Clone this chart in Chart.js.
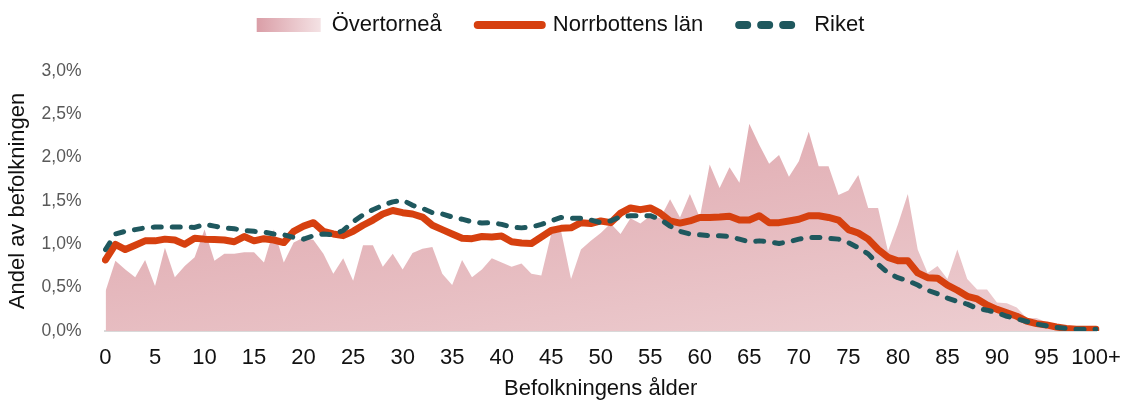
<!DOCTYPE html>
<html lang="sv">
<head>
<meta charset="utf-8">
<title>Befolkning efter ålder</title>
<script src="https://cdn.jsdelivr.net/npm/chart.js"></script>
<style>
    html, body { margin: 0; padding: 0; background: #fff; }
    #wrap { width: 1121px; height: 400px; }
</style>
</head>
<body>
<div id="wrap"><canvas id="ageChart" width="1121" height="400"></canvas></div>
<script>
// Åldrar 0-99 samt 100+
const ages = Array.from({ length: 100 }, (_, i) => String(i)).concat(['100+']);

// Andel av befolkningen (%) per ålder
const overtornea = [
    0.46, 0.81, 0.71, 0.62, 0.82, 0.52, 0.96, 0.62, 0.75, 0.85,
    1.17, 0.81, 0.89, 0.89, 0.91, 0.91, 0.79, 1.17, 0.79, 1.02,
    1.08, 1.05, 0.89, 0.66, 0.84, 0.58, 0.99, 0.99, 0.74, 0.89,
    0.71, 0.90, 0.95, 0.97, 0.66, 0.53, 0.82, 0.62, 0.71, 0.84,
    0.79, 0.74, 0.78, 0.66, 0.64, 1.12, 1.15, 0.60, 0.94, 1.04,
    1.13, 1.24, 1.12, 1.30, 1.24, 1.33, 1.30, 1.52, 1.31, 1.58,
    1.31, 1.92, 1.65, 1.89, 1.71, 2.39, 2.15, 1.93, 2.03, 1.78,
    1.96, 2.30, 1.90, 1.90, 1.57, 1.62, 1.80, 1.42, 1.42, 0.92,
    1.23, 1.58, 0.94, 0.67, 0.75, 0.60, 0.94, 0.60, 0.48, 0.48,
    0.33, 0.32, 0.27, 0.15, 0.15, 0.10, 0.07, 0.05, 0.03, 0.02,
    0.02
];

const norrbotten = [
    0.82, 1.00, 0.94, 0.99, 1.04, 1.04, 1.06, 1.05, 1.00, 1.07,
    1.06, 1.055, 1.05, 1.03, 1.09, 1.04, 1.065, 1.05, 1.02, 1.15,
    1.21, 1.25, 1.15, 1.12, 1.10, 1.15, 1.22, 1.28, 1.35, 1.39,
    1.365, 1.35, 1.315, 1.22, 1.17, 1.12, 1.07, 1.065, 1.09, 1.085,
    1.095, 1.03, 1.015, 1.01, 1.085, 1.16, 1.185, 1.19, 1.25, 1.24,
    1.27, 1.25, 1.36, 1.42, 1.40, 1.42, 1.36, 1.27, 1.245, 1.27,
    1.31, 1.31, 1.315, 1.325, 1.28, 1.28, 1.33, 1.25, 1.25, 1.27,
    1.29, 1.33, 1.33, 1.31, 1.28, 1.17, 1.13, 1.06, 0.94, 0.85,
    0.81, 0.81, 0.67, 0.615, 0.61, 0.53, 0.47, 0.40, 0.37, 0.30,
    0.25, 0.21, 0.17, 0.115, 0.085, 0.07, 0.046, 0.03, 0.02, 0.02,
    0.02
];

const riket = [
    0.94, 1.12, 1.15, 1.17, 1.19, 1.20, 1.20, 1.20, 1.20, 1.195,
    1.23, 1.21, 1.19, 1.18, 1.16, 1.15, 1.14, 1.12, 1.11, 1.08,
    1.06, 1.10, 1.12, 1.11, 1.16, 1.26, 1.34, 1.40, 1.45, 1.49,
    1.51, 1.45, 1.415, 1.365, 1.35, 1.315, 1.29, 1.26, 1.245, 1.25,
    1.23, 1.20, 1.19, 1.20, 1.23, 1.27, 1.31, 1.30, 1.30, 1.28,
    1.25, 1.27, 1.32, 1.33, 1.33, 1.33, 1.29, 1.21, 1.15, 1.12,
    1.11, 1.10, 1.10, 1.09, 1.06, 1.03, 1.04, 1.03, 1.01, 1.03,
    1.06, 1.08, 1.08, 1.07, 1.06, 1.02, 0.96, 0.89, 0.77, 0.67,
    0.615, 0.58, 0.53, 0.47, 0.43, 0.38, 0.34, 0.31, 0.26, 0.24,
    0.21, 0.17, 0.14, 0.11, 0.08, 0.06, 0.04, 0.03, 0.02, 0.02,
    0.02
];

const seriesNames = ['Övertorneå', 'Norrbottens län', 'Riket'];
const yTicks = [0, 0.5, 1.0, 1.5, 2.0, 2.5, 3.0];

const RED = '#d6400f';
const TEAL = '#1f585e';
const FONT = "'Liberation Sans', Arial, sans-serif";

// rosa toning för ytan, mörkast uppe till vänster
function areaFill(context) {
    const { ctx, chartArea } = context.chart;
    if (!chartArea) return '#e6bcc1';
    const g = ctx.createLinearGradient(chartArea.left, chartArea.top, chartArea.left + 72, chartArea.top + 500);
    g.addColorStop(0, '#db9ca3');
    g.addColorStop(1, '#f2dcde');
    return g;
}

// extra luft under legenden + toning i legendrutan
const legendTweaks = {
    id: 'legendTweaks',
    beforeInit(chart) {
        const fit = chart.legend.fit;
        chart.legend.fit = function () {
            fit.call(this);
            this.height += 25;
        };
    },
    beforeDraw(chart) {
        const lg = chart.legend;
        if (!lg || !lg.legendHitBoxes || !lg.legendHitBoxes.length) return;
        const hb = lg.legendHitBoxes[0];
        const g = chart.ctx.createLinearGradient(hb.left, 0, hb.left + 64, 0);
        g.addColorStop(0, '#da9ea7');
        g.addColorStop(1, '#f4e2e4');
        lg.legendItems[0].fillStyle = g;
    }
};

const ctx = document.getElementById('ageChart').getContext('2d');
new Chart(ctx, {
    type: 'line',
    data: {
        labels: ages,
        datasets: [
            {
                label: seriesNames[0],
                data: overtornea,
                fill: 'origin',
                backgroundColor: areaFill,
                borderWidth: 0,
                pointRadius: 0,
                tension: 0,
                order: 3
            },
            {
                label: seriesNames[1],
                data: norrbotten,
                fill: false,
                borderColor: RED,
                borderWidth: 7,
                borderCapStyle: 'round',
                borderJoinStyle: 'round',
                pointRadius: 0,
                tension: 0,
                order: 2
            },
            {
                label: seriesNames[2],
                data: riket,
                fill: false,
                borderColor: TEAL,
                borderWidth: 5,
                borderDash: [8, 11],
                borderCapStyle: 'round',
                borderJoinStyle: 'round',
                pointRadius: 0,
                tension: 0,
                order: 1
            }
        ]
    },
    options: {
        responsive: false,
        devicePixelRatio: 1,
        animation: false,
        layout: { padding: { top: -22, left: 0, right: 0, bottom: 0 } },
        plugins: {
            tooltip: { enabled: false },
            legend: {
                position: 'top',
                align: 'center',
                labels: {
                    usePointStyle: true,
                    pointStyleWidth: 64,
                    boxHeight: 14,
                    padding: 36,
                    color: '#111',
                    font: { family: FONT, size: 22 },
                    generateLabels: () => [
                        { text: seriesNames[0], datasetIndex: 0, pointStyle: 'rect', fillStyle: '#e6bcc1', strokeStyle: 'rgba(0,0,0,0)', lineWidth: 0, fontColor: '#111' },
                        { text: seriesNames[1], datasetIndex: 1, pointStyle: 'line', fillStyle: RED, strokeStyle: RED, lineWidth: 8, lineCap: 'round', fontColor: '#111' },
                        { text: seriesNames[2], datasetIndex: 2, pointStyle: 'line', fillStyle: TEAL, strokeStyle: TEAL, lineWidth: 8, lineCap: 'round', lineDash: [8, 14], fontColor: '#111' }
                    ]
                }
            }
        },
        scales: {
            x: {
                afterFit: (scale) => { scale.paddingRight = 25; },
                grid: { display: false, drawTicks: false },
                border: { display: true, color: '#d9d9d9', width: 2 },
                ticks: {
                    autoSkip: false,
                    maxRotation: 0,
                    padding: 14,
                    color: '#111',
                    font: { family: FONT, size: 22 },
                    callback: (v, i) => (i % 5 === 0 ? ages[i] : null)
                },
                title: {
                    display: true,
                    text: 'Befolkningens ålder',
                    color: '#111',
                    font: { family: FONT, size: 22, lineHeight: 1 },
                    padding: { top: -7.4, bottom: 0 }
                }
            },
            y: {
                min: yTicks[0],
                max: yTicks[yTicks.length - 1],
                afterBuildTicks: (axis) => { axis.ticks = yTicks.map(v => ({ value: v })); },
                grid: { display: false, drawTicks: false },
                border: { display: false },
                ticks: {
                    padding: 24,
                    color: '#595959',
                    font: { family: FONT, size: 17.5 },
                    callback: (v) => v.toFixed(1).replace('.', ',') + '%'
                },
                title: {
                    display: true,
                    text: 'Andel av befolkningen',
                    color: '#111',
                    font: { family: FONT, size: 22, lineHeight: 1 },
                    padding: { top: 7, bottom: -11.4 }
                }
            }
        }
    },
    plugins: [legendTweaks]
});
</script>
</body>
</html>
